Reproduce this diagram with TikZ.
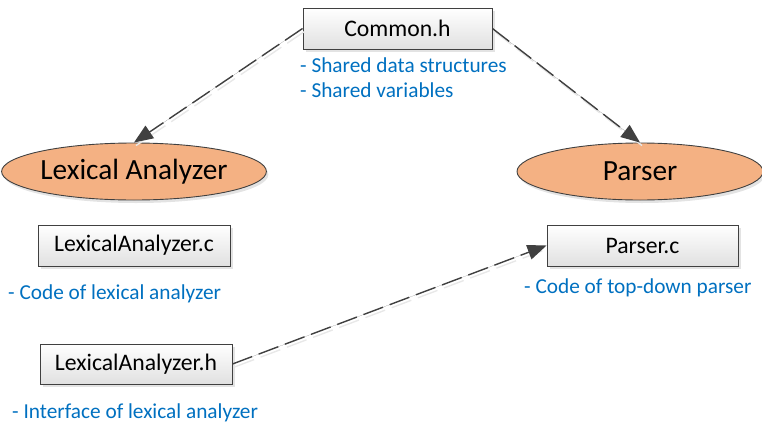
\documentclass[tikz,border=0pt]{standalone}
\usepackage{fontspec}
\setmainfont{Carlito}
\usetikzlibrary{shapes.geometric,arrows.meta,shadows}
\definecolor{edgegray}{HTML}{404040}
\definecolor{noteblue}{HTML}{0070C0}
\definecolor{orangefill}{HTML}{F4B183}
\tikzset{
  filebox/.style={draw=edgegray, line width=0.9pt, top color=white, bottom color=black!12,
    minimum height=41pt, inner sep=0pt, font=\fontsize{23.7}{26}\selectfont,
    drop shadow={shadow xshift=3pt, shadow yshift=-3pt, fill=black!18, opacity=0.6}},
  module/.style={ellipse, draw=edgegray, line width=0.9pt, fill=orangefill,
    minimum width=252pt, minimum height=57pt, inner sep=0pt, font=\fontsize{29.3}{32}\selectfont,
    drop shadow={shadow xshift=2pt, shadow yshift=-3pt, fill=black!18, opacity=0.6}},
  note/.style={anchor=base west, inner sep=0pt, text=noteblue, font=\fontsize{21.3}{24}\selectfont},
  dep/.style={draw=edgegray, line width=1.4pt, dash pattern=on 21pt off 7pt,
    -{Triangle[length=19pt,width=15pt]}, fill=edgegray},
  depshadow/.style={draw=black!9, line width=1.4pt, dash pattern=on 21pt off 7pt}
}
\begin{document}
\begin{tikzpicture}[x=1pt,y=-1pt]
\useasboundingbox (0,0) rectangle (762,423);
\node[filebox, minimum width=189pt] (common) at (397.5,28.5) {Common.h};
\node[note] (n1) at (300,72) {- Shared data structures};
\node[note] (n2) at (300,97) {- Shared variables};
\node[module] (lex) at (134,171.5) {Lexical Analyzer};
\node[module, minimum width=246pt] (parser) at (640,171.5) {Parser};
\node[filebox, minimum width=192pt] (lexc) at (134,245.5) {LexicalAnalyzer.c};
\node[note] (n3) at (8,299) {- Code of lexical analyzer};
\node[filebox, minimum width=191pt] (parc) at (642.5,245.5) {Parser.c};
\node[note] (n4) at (524,293) {- Code of top-down parser};
\node[filebox, minimum width=192pt, minimum height=40pt] (lexh) at (136,364) {LexicalAnalyzer.h};
\node[note] (n5) at (12,418) {- Interface of lexical analyzer};
\draw[depshadow] ([shift={(2,3)}]common.west) -- ([shift={(2,3)}]lex.north);
\draw[depshadow] ([shift={(2,3)}]common.east) -- ([shift={(2,3)}]parser.north);
\draw[depshadow] ([shift={(2,3)}]lexh.east) -- ([shift={(2,3)}]parc.west);
\draw[dep] (common.west) -- (lex.north);
\draw[dep] (common.east) -- (parser.north);
\draw[dep] (lexh.east) -- (parc.west);
\end{tikzpicture}
\end{document}
